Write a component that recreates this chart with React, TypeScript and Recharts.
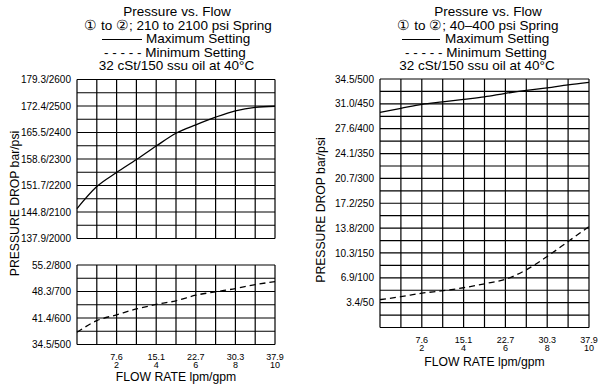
import React from 'react';
import { LineChart, Line, XAxis, YAxis, CartesianGrid, ReferenceLine } from 'recharts';

// flow in gpm, pressures in psi
const flowGpm = [0, 1, 2, 3, 4, 5, 6, 7, 8, 9, 10];
const leftMaxPsi = [2113, 2196, 2249, 2298, 2349, 2397, 2429, 2458, 2482, 2495, 2499];
const leftMinPsi = [546, 590, 612, 634, 651, 665, 686, 699, 711, 726, 737];
const rightMaxPsi = [433, 441, 449, 454, 459, 464, 471, 477, 482, 488, 493];
const rightMinPsi = [56, 62, 69, 74, 80, 88, 97, 116, 143, 173, 203];

const xTicks = [0, 1, 2, 3, 4, 5, 6, 7, 8, 9, 10];
const xTickLabels: Record<number, [string, string]> = {
  2: ['7.6', '2'],
  4: ['15.1', '4'],
  6: ['22.7', '6'],
  8: ['30.3', '8'],
  10: ['37.9', '10'],
};

const upperTicks = [2000, 2050, 2100, 2150, 2200, 2250, 2300, 2350, 2400, 2450, 2500, 2550, 2600];
const upperLabels: Record<number, string> = {
  2000: '137.9/2000', 2100: '144.8/2100', 2200: '151.7/2200', 2300: '158.6/2300',
  2400: '165.5/2400', 2500: '172.4/2500', 2600: '179.3/2600',
};
const lowerTicks = [500, 550, 600, 650, 700, 750, 800];
const lowerLabels: Record<number, string> = {
  500: '34.5/500', 600: '41.4/600', 700: '48.3/700', 800: '55.2/800',
};
const rightTicks = [0, 25, 50, 75, 100, 125, 150, 175, 200, 225, 250, 275, 300, 325, 350, 375, 400, 425, 450, 475, 500];
const rightLabels: Record<number, string> = {
  50: '3.4/50', 100: '6.9/100', 150: '10.3/150', 200: '13.8/200', 250: '17.2/250',
  300: '20.7/300', 350: '24.1/350', 400: '27.6/400', 450: '31.0/450', 500: '34.5/500',
};

const FONT = '"Liberation Sans", Arial, Helvetica, sans-serif';

const leftUpper = flowGpm.map((g, i) => ({ gpm: g, max: leftMaxPsi[i] }));
const leftLower = flowGpm.map((g, i) => ({ gpm: g, min: leftMinPsi[i] }));
const rightData = flowGpm.map((g, i) => ({ gpm: g, max: rightMaxPsi[i], min: rightMinPsi[i] }));

const FlowTick = ({ x, y, payload }: any) => {
  const lbl = xTickLabels[payload.value];
  if (!lbl) return null;
  return (
    <g>
      <text x={x} y={y + 15} textAnchor="middle" fontSize={9} fill="#000" fontFamily={FONT}>{lbl[0]}</text>
      <text x={x} y={y + 23.5} textAnchor="middle" fontSize={9} fill="#000" fontFamily={FONT}>{lbl[1]}</text>
    </g>
  );
};

const yTickStyle = { fontSize: 10, fill: '#000', fontFamily: FONT };
const gridProps = { stroke: '#000', strokeWidth: 1.2, strokeOpacity: 1, vertical: false };

// vertical grid through the x scale
const flowLines = () =>
  xTicks.map((t) => (
    <ReferenceLine key={t} x={t} stroke="#000" strokeWidth={1.2} ifOverflow="extendDomain" />
  ));

export default function App() {
  return (
    <div style={{ position: 'absolute', left: 0, top: 0, width: 598, height: 390, background: '#fff', overflow: 'hidden' }}>
      {/* left, upper band (max setting) */}
      <div style={{ position: 'absolute', left: 0, top: 0 }}>
        <LineChart width={300} height={250} data={leftUpper} margin={{ top: 79.5, right: 25, bottom: 11.5, left: 7 }}>
          <CartesianGrid {...gridProps} />
          <XAxis dataKey="gpm" type="number" domain={[0, 10]} ticks={xTicks} height={0} tick={false} axisLine={false} tickLine={false} />
          <YAxis type="number" domain={[2000, 2600]} ticks={upperTicks} interval={0} width={70}
            tickFormatter={(v: number) => upperLabels[v] || ''} tick={yTickStyle}
            axisLine={false} tickLine={false} tickSize={0} tickMargin={6} />
          {flowLines()}
          <Line dataKey="max" type="monotone" stroke="#000" strokeWidth={1.3} dot={false} isAnimationActive={false} />
        </LineChart>
      </div>

      {/* left, lower band (min setting) */}
      <div style={{ position: 'absolute', left: 0, top: 250 }}>
        <LineChart width={300} height={140} data={leftLower} margin={{ top: 15, right: 25, bottom: 0, left: 7 }}>
          <CartesianGrid {...gridProps} />
          <XAxis dataKey="gpm" type="number" domain={[0, 10]} ticks={xTicks} interval={0} height={45.5}
            tick={<FlowTick />} axisLine={false} tickLine={false} tickSize={0} tickMargin={0} />
          <YAxis type="number" domain={[500, 800]} ticks={lowerTicks} interval={0} width={70}
            tickFormatter={(v: number) => lowerLabels[v] || ''} tick={yTickStyle}
            axisLine={false} tickLine={false} tickSize={0} tickMargin={6} />
          {flowLines()}
          <Line dataKey="min" type="monotone" stroke="#000" strokeWidth={1.3} strokeDasharray="6 4" dot={false} isAnimationActive={false} />
        </LineChart>
      </div>

      {/* right chart */}
      <div style={{ position: 'absolute', left: 300, top: 0 }}>
        <LineChart width={298} height={390} data={rightData} margin={{ top: 79, right: 9, bottom: 0, left: 10 }}>
          <CartesianGrid {...gridProps} />
          <XAxis dataKey="gpm" type="number" domain={[0, 10]} ticks={xTicks} interval={0} height={62.5}
            tick={<FlowTick />} axisLine={false} tickLine={false} tickSize={0} tickMargin={0} />
          <YAxis type="number" domain={[0, 500]} ticks={rightTicks} interval={0} width={70}
            tickFormatter={(v: number) => rightLabels[v] || ''} tick={yTickStyle}
            axisLine={false} tickLine={false} tickSize={0} tickMargin={6} />
          {flowLines()}
          <Line dataKey="max" type="monotone" stroke="#000" strokeWidth={1.3} dot={false} isAnimationActive={false} />
          <Line dataKey="min" type="monotone" stroke="#000" strokeWidth={1.3} strokeDasharray="6 4" dot={false} isAnimationActive={false} />
        </LineChart>
      </div>

      {/* titles and axis names */}
      <svg width={598} height={390} style={{ position: 'absolute', left: 0, top: 0, pointerEvents: 'none' }}
        fontFamily={FONT} fill="#000">
        <g fontSize={13.5} textAnchor="middle">
          <text x={177} y={16}>Pressure vs. Flow</text>
          <text x={178} y={29.6}>① to ②; 210 to 2100 psi Spring</text>
          <text x={146} y={43.2} textAnchor="start">Maximum Setting</text>
          <text x={175} y={56.8}>- - - - - Minimum Setting</text>
          <text x={176.5} y={70.4}>32 cSt/150 ssu oil at 40°C</text>

          <text x={488} y={16}>Pressure vs. Flow</text>
          <text x={478} y={29.6}>① to ②; 40–400 psi Spring</text>
          <text x={445} y={43.2} textAnchor="start">Maximum Setting</text>
          <text x={476} y={56.8}>- - - - - Minimum Setting</text>
          <text x={477} y={70.4}>32 cSt/150 ssu oil at 40°C</text>
        </g>
        <line x1={102} x2={142} y1={39.5} y2={39.5} stroke="#000" strokeWidth={1.2} />
        <line x1={402} x2={440} y1={39.5} y2={39.5} stroke="#000" strokeWidth={1.2} />

        <g fontSize={12.2} textAnchor="middle">
          <text x={176} y={381}>FLOW RATE lpm/gpm</text>
          <text x={484.5} y={365.5}>FLOW RATE lpm/gpm</text>
          <text transform="translate(19,203.5) rotate(-90)">PRESSURE DROP bar/psi</text>
          <text transform="translate(324.5,210) rotate(-90)">PRESSURE DROP bar/psi</text>
        </g>
      </svg>
    </div>
  );
}
